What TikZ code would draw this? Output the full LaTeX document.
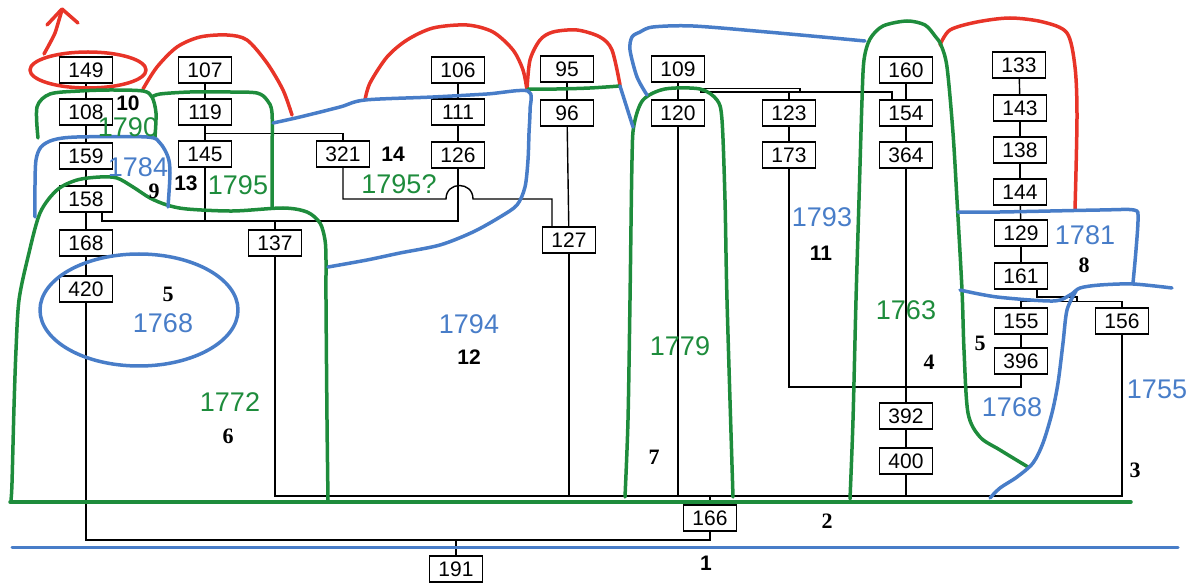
\documentclass[tikz,border=0pt]{standalone}
\usepackage{fontspec}
\setmainfont{Liberation Sans}
\newfontfamily\serifbf{Liberation Serif}
\definecolor{cred}{RGB}{232,52,40}
\definecolor{cgreen}{RGB}{30,140,60}
\definecolor{cblue}{RGB}{72,125,200}
\tikzset{
  bx/.style={draw, line width=1.4pt, fill=white, minimum width=53pt, minimum height=26pt, inner sep=0pt, font=\fontsize{21}{22}\selectfont},
  conn/.style={line width=1.4pt},
  rl/.style={cred, line width=3.5pt, line cap=round, line join=round},
  gl/.style={cgreen, line width=3.5pt, line cap=round, line join=round},
  bl/.style={cblue, line width=3.5pt, line cap=round, line join=round},
  glab/.style={cgreen, inner sep=0pt, font=\fontsize{27}{30}\selectfont},
  blab/.style={cblue, inner sep=0pt, font=\fontsize{27}{30}\selectfont},
  klab/.style={inner sep=0pt, font=\bfseries\fontsize{21}{24}\selectfont},
  slab/.style={inner sep=0pt, font=\serifbf\bfseries\fontsize{22}{24}\selectfont}
}
\begin{document}
\begin{tikzpicture}[x=1pt,y=-1pt]
\useasboundingbox (0,0) rectangle (1195,585);
% ---- boxes ----
\node[bx] (b149) at (86,70) {149};
\node[bx] (b108) at (86,112) {108};
\node[bx] (b159) at (86,156) {159};
\node[bx] (b158) at (86,199) {158};
\node[bx] (b168) at (86,243) {168};
\node[bx] (b420) at (86,289) {420};
\node[bx] (b107) at (205,70) {107};
\node[bx] (b119) at (205,112) {119};
\node[bx] (b145) at (205,154) {145};
\node[bx] (b137) at (275,243) {137};
\node[bx] (b321) at (343,154) {321};
\node[bx] (b106) at (458,70) {106};
\node[bx] (b111) at (458,112) {111};
\node[bx] (b126) at (458,155) {126};
\node[bx] (b95) at (567,69) {95};
\node[bx] (b96) at (567,113) {96};
\node[bx] (b127) at (569,240) {127};
\node[bx] (b109) at (678,69) {109};
\node[bx] (b120) at (678,113) {120};
\node[bx] (b123) at (789,113) {123};
\node[bx] (b173) at (789,155) {173};
\node[bx] (b160) at (906,70) {160};
\node[bx] (b154) at (906,113) {154};
\node[bx] (b364) at (906,155) {364};
\node[bx] (b392) at (906,416) {392};
\node[bx] (b400) at (906,461) {400};
\node[bx] (b133) at (1019,65) {133};
\node[bx] (b143) at (1020,108) {143};
\node[bx] (b138) at (1020,150) {138};
\node[bx] (b144) at (1020,192) {144};
\node[bx] (b129) at (1021,233) {129};
\node[bx] (b161) at (1021,276) {161};
\node[bx] (b155) at (1021,321) {155};
\node[bx] (b396) at (1021,361) {396};
\node[bx] (b156) at (1122,321) {156};
\node[bx] (b166) at (710,518) {166};
\node[bx] (b191) at (456,569) {191};
% ---- junction coordinates ----
\coordinate (jm) at (1122,496);
\coordinate (j540) at (710,540);
\coordinate (j221) at (458,221);
\coordinate (j387) at (1021,387);
% ---- connectors ----
\begin{scope}[conn]
\draw (b149) -- (b108); \draw (b108) -- (b159); \draw (b159) -- (b158);
\draw (b158) -- (b168); \draw (b168) -- (b420);
\draw (b420.south) |- (j540) -- (b166.south);
\draw (b191.north) -- (b191.north |- j540);
\draw (b166.north) -- (b166.north |- jm);
\draw (b137.south) |- (jm) -- (b156.south);
\draw (b127.south) -- (b127.south |- jm);
\draw (b120.south) -- (b120.south |- jm);
\draw (b400.south) -- (b400.south |- jm);
\draw ([xshift=16pt]b158.south) |- (j221) -- (b126.south);
\draw (b145.south) -- (b145.south |- j221);
\draw (b137.north) -- (b137.north |- j221);
\draw (b107) -- (b119); \draw (b119) -- (b145);
\draw ([yshift=-8pt]b119.south) -| (b321.north);
\draw (b321.south) |- (446,199) .. controls (446,181) and (473,181) .. (473,199) -| ([xshift=-17pt]b127.north);
\draw (b106) -- (b111); \draw (b111) -- (b126);
\draw (b95) -- (b96); \draw (b96) -- (b127);
\draw (b109) -- (b120);
\draw ([yshift=-6pt]b109.south) -| (800,92);
\draw (700,92) -| ([xshift=-14pt]b154.north);
\draw (b123.north) -- (b123.north |- 700,92);
\draw (b123) -- (b173);
\draw (b160) -- (b154); \draw (b154) -- (b364);
\draw (b364.south) -- (b364.south |- j387);
\draw (b173.south) |- (j387) -- (b396.south);
\draw (b392.north) -- (b392.north |- j387);
\draw (b392) -- (b400);
\draw (b133) -- (b143); \draw (b143) -- (b138); \draw (b138) -- (b144);
\draw (b144) -- (b129); \draw (b129) -- (b161);
\draw (b155) -- (b396);
\draw ([xshift=16pt]b161.south) |- (1077,297) -- (1077,302);
\draw ([yshift=6pt]b155.north) -| (b156.north);
\draw (b155.north) -- ([yshift=6pt]b155.north);
\end{scope}
% ---- red curves ----
\draw[rl] (88,70) ellipse [x radius=58, y radius=18];
\draw[rl] plot[smooth] coordinates {(44,54) (50,43) (55,33) (59,20) (62,10)};
\draw[rl] (47,25) -- (62,9) -- (78,23);
\draw[rl] plot[smooth] coordinates {(143,89) (157,67) (177,47) (200,37) (227,35) (247,40) (267,63) (283,90) (292,115)};
\draw[rl] plot[smooth] coordinates {(365,100) (370,83) (387,57) (407,40) (433,28) (467,25) (493,32) (513,50) (523,70) (527,90)};
\draw[rl] plot[smooth] coordinates {(527,90) (530,60) (540,40) (553,32) (577,30) (600,37) (612,50) (620,85)};
\draw[rl] plot[smooth] coordinates {(940,45) (950,30) (977,22) (1010,18) (1043,22) (1067,33) (1075,67) (1077,117) (1075,210)};
% ---- green curves ----
\draw[gl] plot[smooth] coordinates {(38,138) (37,107) (50,94) (80,91) (110,90) (143,91) (152,97) (156,113) (155,137)};
\draw[gl] plot[smooth] coordinates {(152,97) (160,94) (190,92) (230,92) (257,93) (267,100) (272,113) (272,160) (272,207)};
\draw[gl] plot[smooth] coordinates {(328,500) (327,420) (326,300) (326,260) (325,240) (320,223) (307,212) (283,208) (233,211) (187,209) (167,205) (150,198) (133,187) (117,178) (100,177) (77,180) (57,190) (40,213) (28,257) (19,300) (16,350) (14,407) (12,483) (11,500)};
\draw[gl] (10,502) -- (1131,502);
\draw[gl] plot[smooth] coordinates {(625,497) (628,420) (630,300) (632,160) (634,125) (643,100) (665,89) (700,89) (717,100) (722,120) (725,200) (727,300) (733,497)};
\draw[gl] plot[smooth] coordinates {(850,499) (853,420) (856,300) (859,200) (862,100) (864,60) (870,39) (883,26) (907,21) (925,25) (935,36) (941,45) (947,67) (953,133) (957,200) (962,290) (964,350) (968,413) (980,437) (1000,450) (1028,467)};
\draw[gl] plot[smooth] coordinates {(528,89) (557,89) (590,88) (620,86)};
% ---- blue curves ----
\draw[bl] plot[smooth] coordinates {(35,217) (35,185) (36,160) (41,147) (53,140) (77,137) (147,137) (160,143) (168,157) (170,173) (168,207)};
\draw[bl] plot[smooth] coordinates {(273,123) (300,117) (340,107) (365,100) (433,97) (487,94) (528,91) (530,110) (529,133) (528,160) (525,187) (517,205) (500,217) (473,232) (440,245) (400,253) (367,260) (328,267)};
\draw[bl] (620,86) -- (633,127);
\draw[bl] plot[smooth] coordinates {(647,95) (637,77) (630,50) (632,37) (640,32) (653,27) (693,26) (767,32) (833,38) (865,41)};
\draw[bl] plot[smooth] coordinates {(958,212) (1000,212) (1100,210) (1134,210) (1138,218) (1136,250) (1133,283)};
\draw[bl] plot[smooth] coordinates {(960,290) (997,297) (1053,301) (1070,295) (1080,288) (1100,285) (1133,284) (1172,288)};
\draw[bl] plot[smooth] coordinates {(1076,291) (1067,310) (1063,343) (1058,383) (1052,413) (1043,443) (1033,463) (1017,477) (1000,488) (990,498)};
\draw[bl] (139,310) ellipse [x radius=99, y radius=56];
\draw[bl, line width=3pt] (12,547) -- (1178,547);
% ---- labels ----
\node[klab] (t10) at (128,103) {10};
\node[glab] (t1790) at (128,127) {1790};
\node[blab] (t1784) at (138,167) {1784};
\node[slab] (t9) at (154,191) {9};
\node[klab] (t13) at (186,183) {13};
\node[glab] (t1795) at (238,185) {1795};
\node[klab] (t14) at (393,154) {14};
\node[glab] (t1795q) at (399,184) {1795?};
\node[slab] (t5a) at (168,294) {5};
\node[blab] (t1768a) at (163,323) {1768};
\node[glab] (t1772) at (230,402) {1772};
\node[slab] (t6) at (228,436) {6};
\node[blab] (t1794) at (469,324) {1794};
\node[klab] (t12) at (469,357) {12};
\node[glab] (t1779) at (680,346) {1779};
\node[slab] (t7) at (654,457) {7};
\node[klab] (t1) at (706,563) {1};
\node[blab] (t1793) at (822,217) {1793};
\node[klab] (t11) at (821,253) {11};
\node[glab] (t1763) at (906,310) {1763};
\node[slab] (t4) at (929,362) {4};
\node[slab] (t5b) at (980,343) {5};
\node[blab] (t1768b) at (1012,407) {1768};
\node[blab] (t1755) at (1157,389) {1755};
\node[slab] (t3) at (1135,470) {3};
\node[slab] (t2) at (827,521) {2};
\node[blab] (t1781) at (1085,235) {1781};
\node[slab] (t8) at (1084,265) {8};
\end{tikzpicture}
\end{document}
